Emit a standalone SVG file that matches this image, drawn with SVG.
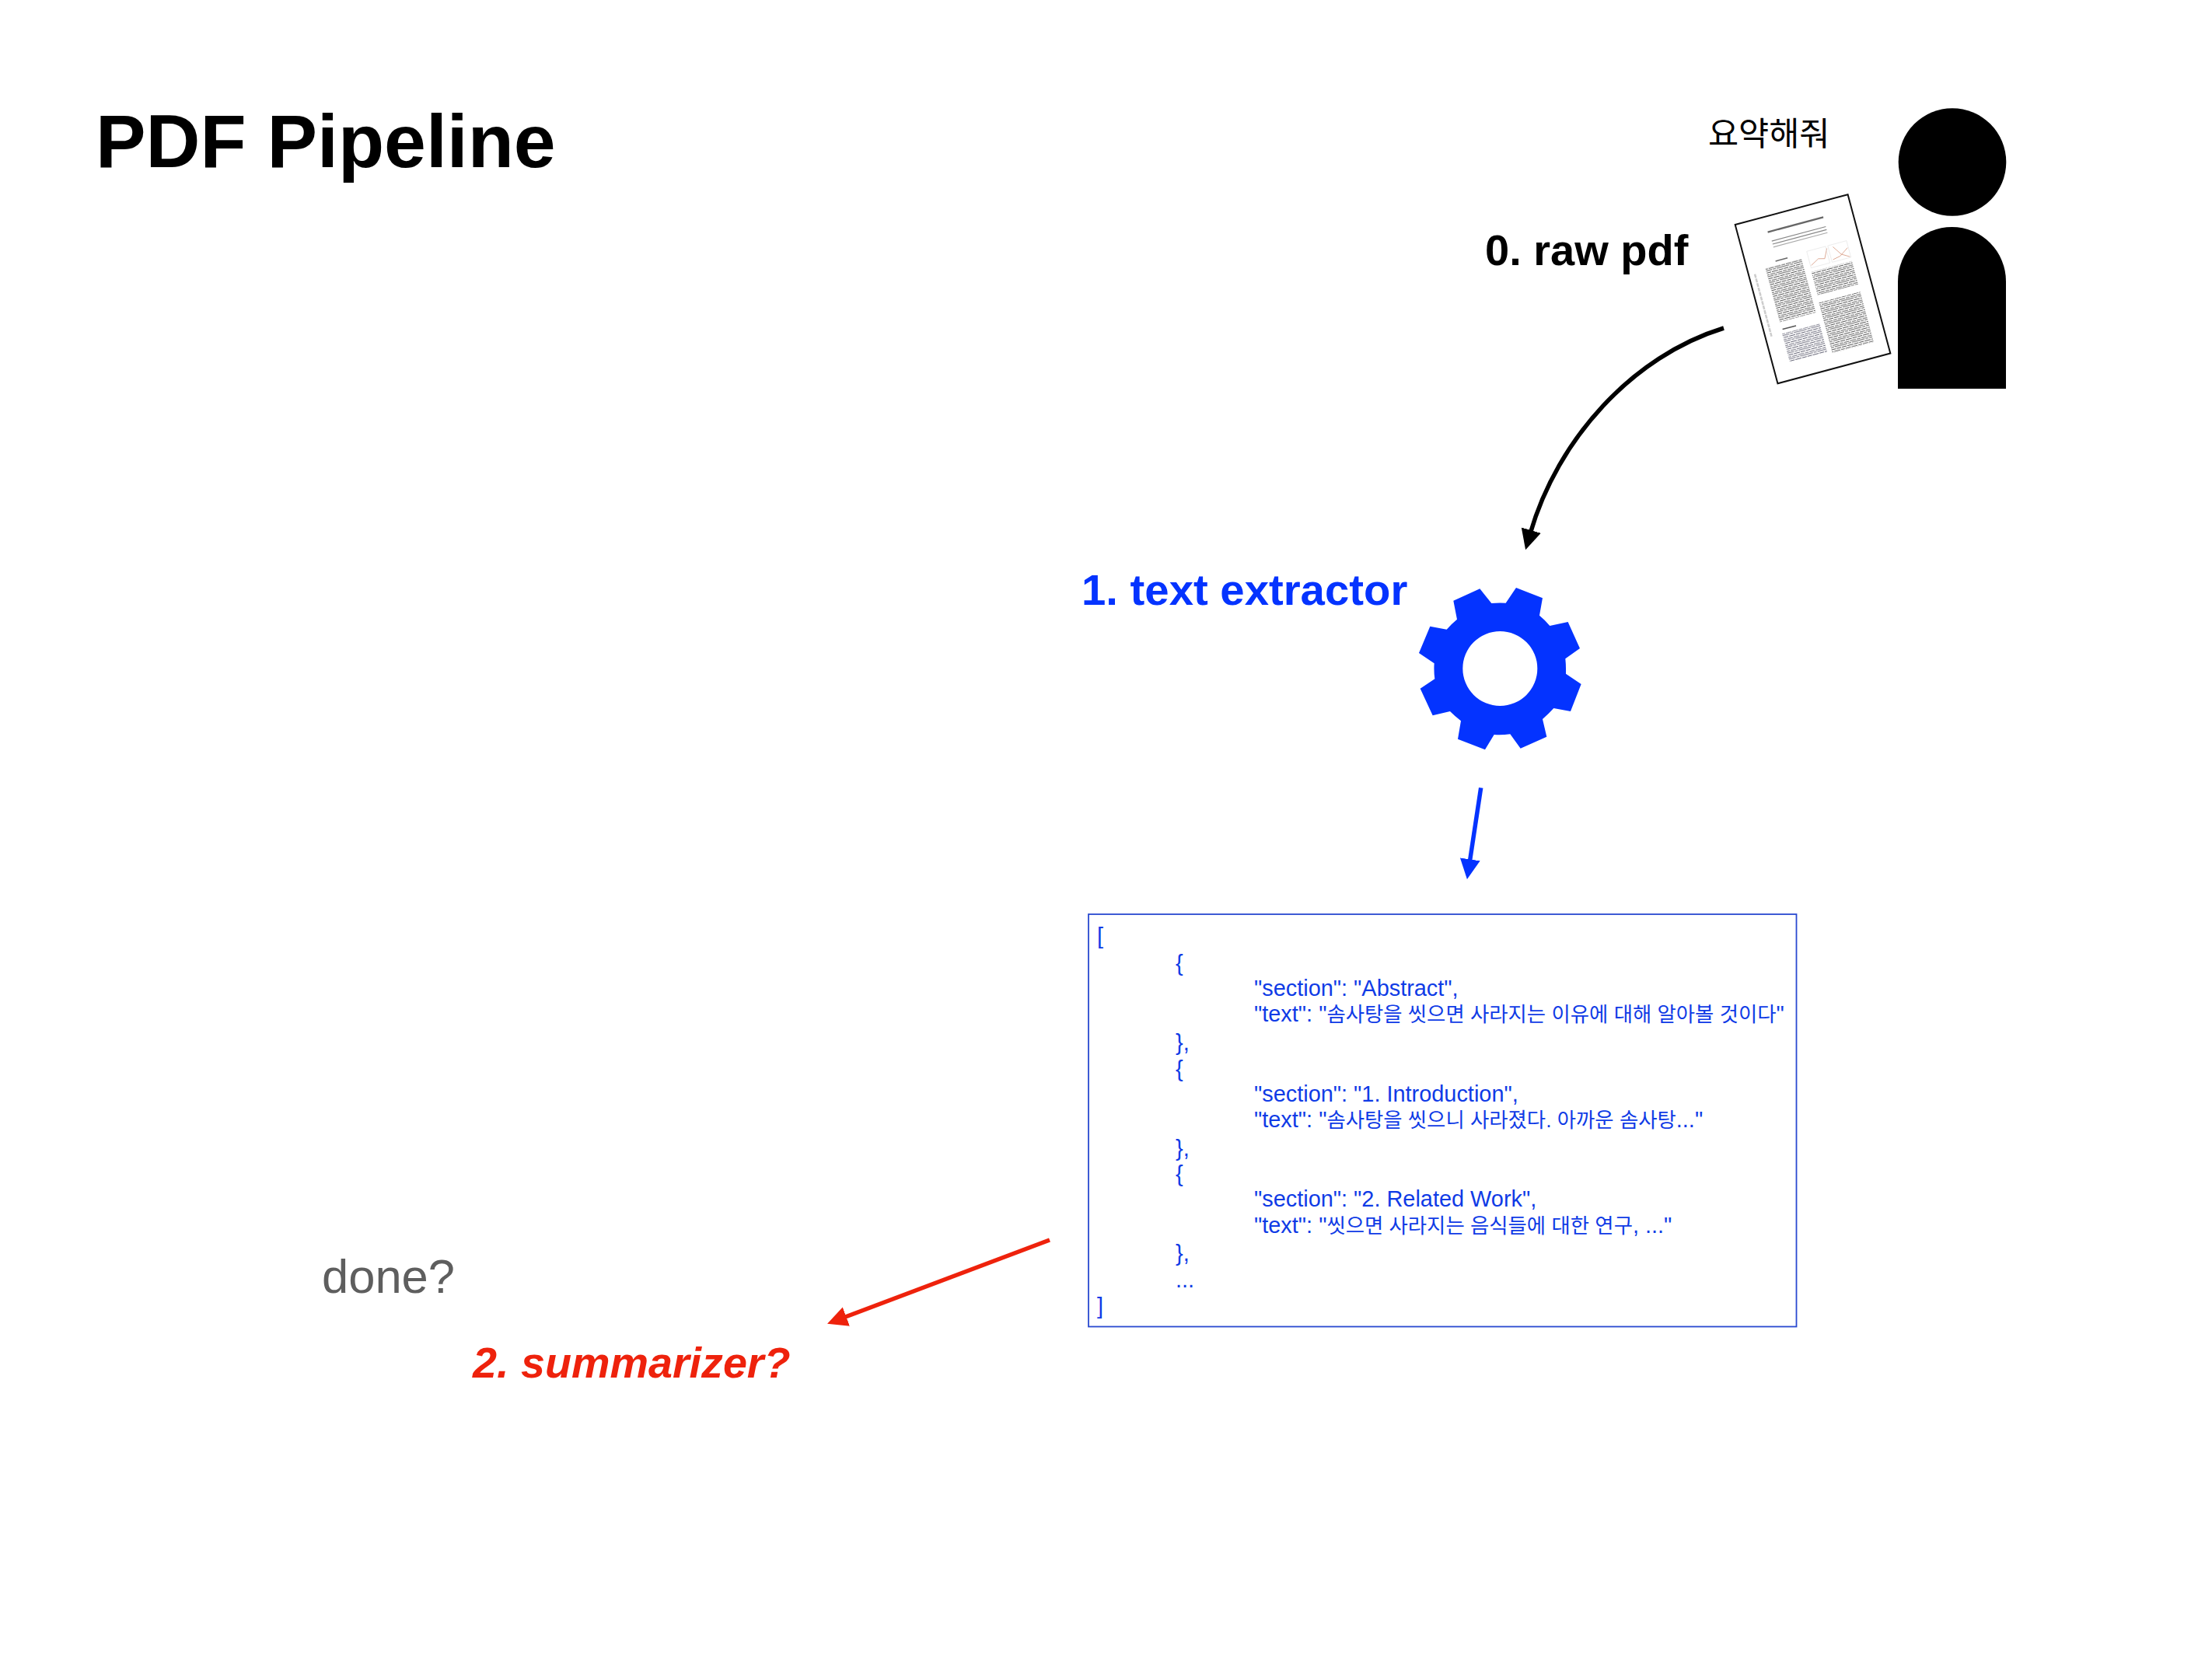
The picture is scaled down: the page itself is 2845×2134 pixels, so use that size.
<svg xmlns="http://www.w3.org/2000/svg" width="2845" height="2134" viewBox="0 0 2845 2134">
<style>
text{font-family:"Liberation Sans","Noto Sans CJK KR",sans-serif}
.b{font-weight:700}
.blue{fill:#0433ff}
.j{font-size:28.900px;fill:#0f3be6}
.k{font-size:26.400px}
.conn{fill:none;stroke-linecap:butt}
</style>
<defs>
<marker id="hk" markerUnits="userSpaceOnUse" markerWidth="27" markerHeight="27" refX="4" refY="13" orient="auto"><path d="M0,0L26,13L0,26z" fill="#000"/></marker>
<marker id="hb" markerUnits="userSpaceOnUse" markerWidth="27" markerHeight="27" refX="4" refY="13" orient="auto"><path d="M0,0L26,13L0,26z" fill="#0433ff"/></marker>
<marker id="hr" markerUnits="userSpaceOnUse" markerWidth="27" markerHeight="27" refX="4" refY="13" orient="auto"><path d="M0,0L26,13L0,26z" fill="#ee220c"/></marker>
<pattern id="rows" width="23" height="7.800" patternUnits="userSpaceOnUse"><path d="M0,0.500H6M7,0.500H15M16,0.500H22M0,3.100H3M4,3.100H11M12,3.100H20M21,3.100H23M0,5.700H8M9,5.700H13M14,5.700H23" stroke="#555" stroke-width="1" fill="none"/></pattern>
<pattern id="rowsb" width="23" height="7.800" patternUnits="userSpaceOnUse"><path d="M0,0.500H6M7,0.500H15M16,0.500H22M0,3.100H3M4,3.100H11M12,3.100H20M21,3.100H23M0,5.700H8M9,5.700H13M14,5.700H23" stroke="#667" stroke-width="1" fill="none"/></pattern>
</defs>
<rect width="2845" height="2134" fill="#fff"/>
<g id="title"><text x="123" y="215" class="b" font-size="96.800">PDF Pipeline</text></g>
<g id="user">
<text x="2197" y="187" font-size="42.500">요약해줘</text>
<circle cx="2511" cy="208.500" r="69.300"/>
<path d="M2441,500V362A69.500,70 0 0 1 2580,362V500z"/>
</g>
<g id="raw-pdf">
<text x="1910" y="341" class="b" font-size="56">0. raw pdf</text>
<g transform="translate(2231.700,289) rotate(-15)">
<rect x="0" y="0" width="150" height="211.500" fill="#fff" stroke="#111" stroke-width="2"/>
<rect x="38" y="19" width="74" height="2.200" fill="#666"/>
<rect x="40" y="32" width="72" height="1.200" fill="#888"/>
<rect x="40" y="36" width="72" height="1.200" fill="#888"/>
<rect x="40" y="40" width="72" height="1.200" fill="#aaa"/>
<path d="M81,76L92,70L100,72L106,60M110,76L120,74L132,66M114,60L122,72L132,78" fill="none" stroke="#d9a089" stroke-width="0.800"/>
<rect x="80" y="57" width="25" height="22" fill="none" stroke="#ddd" stroke-width="0.500"/>
<rect x="108" y="57" width="25" height="22" fill="none" stroke="#ddd" stroke-width="0.500"/>
<rect x="38" y="58" width="16" height="1.500" fill="#666"/>
<rect x="23" y="64" width="48" height="72" fill="url(#rows)"/>
<rect x="24" y="145" width="18" height="1.500" fill="#555"/>
<rect x="22" y="151" width="50" height="38" fill="url(#rowsb)"/>
<rect x="79" y="84" width="54" height="31" fill="url(#rows)"/>
<rect x="78" y="125" width="55" height="67" fill="url(#rows)"/>
<line x1="8" y1="68" x2="8" y2="152" stroke="#ccc" stroke-width="2.500" stroke-dasharray="5 1"/>
</g>
</g>
<g id="text-extractor">
<text x="1391" y="778" class="b blue" font-size="56.300">1. text extractor</text>
<path class="blue" fill-rule="evenodd" transform="translate(1780,720) scale(0.3333)" d="M268,158L370,112L415,168Q442,165 470,167L510,108L612,148L600,215Q622,233 640,255L710,240L756,342L700,382Q703,410 702,440L761,480L720,585L655,573Q635,595 612,615L628,683L527,728L487,673Q455,677 425,675L390,733L285,692L297,622Q275,605 255,585L188,601L140,497L196,460Q192,430 194,400L135,360L178,257L242,269Q260,248 282,230z M592,420A144,144 0 1 0 304,420A144,144 0 1 0 592,420z"/>
</g>
<g id="json-box">
<rect x="1400" y="1176" width="910.500" height="530.500" fill="#fff" stroke="#2a4ad0" stroke-width="1.800"/>
<text class="j" x="1411" y="1213.500">[</text>
<text class="j" x="1512" y="1248.500">{</text>
<text class="j" x="1613" y="1281">"section": "Abstract",</text>
<text class="j" x="1613" y="1314">"text": "<tspan class="k">솜사탕을 씻으면 사라지는 이유에 대해 알아볼 것이다</tspan>"</text>
<text class="j" x="1512" y="1350.500">},</text>
<text class="j" x="1512" y="1384.500">{</text>
<text class="j" x="1613" y="1417">"section": "1. Introduction",</text>
<text class="j" x="1613" y="1450">"text": "<tspan class="k">솜사탕을 씻으니 사라졌다. 아까운 솜사탕</tspan>..."</text>
<text class="j" x="1512" y="1486.500">},</text>
<text class="j" x="1512" y="1519.500">{</text>
<text class="j" x="1613" y="1552">"section": "2. Related Work",</text>
<text class="j" x="1613" y="1586">"text": "<tspan class="k">씻으면 사라지는 음식들에 대한 연구</tspan>, ..."</text>
<text class="j" x="1512" y="1621.500">},</text>
<text class="j" x="1512" y="1655.500">...</text>
<text class="j" x="1411" y="1689.500">]</text>
</g>
<g id="done"><text x="414" y="1663" font-size="61.500" fill="#5e5e5e">done?</text></g>
<g id="summarizer"><text x="608" y="1772" class="b" font-style="italic" font-size="55.700" fill="#ee220c">2. summarizer?</text></g>
<g id="connectors">
<path class="conn" d="M2217,422C2100,458 2003,565 1968.200,686" stroke="#000" stroke-width="5.500" marker-end="url(#hk)"/>
<path class="conn" d="M1904.700,1013.300L1890.200,1109.300" stroke="#0433ff" stroke-width="5.500" marker-end="url(#hb)"/>
<path class="conn" d="M1350,1595L1084.600,1695" stroke="#ee220c" stroke-width="5.500" marker-end="url(#hr)"/>
</g>
</svg>
